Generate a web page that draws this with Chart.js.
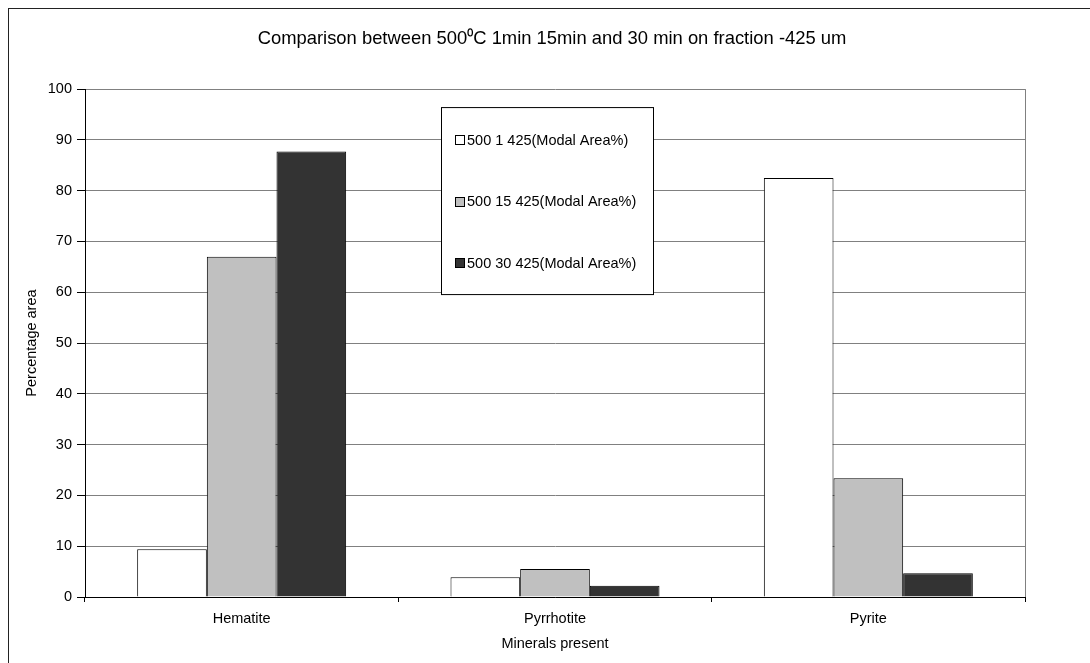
<!DOCTYPE html>
<html><head><meta charset="utf-8">
<script src="https://cdn.jsdelivr.net/npm/chart.js@4.4.0/dist/chart.umd.min.js"></script>
<style>html,body{margin:0;padding:0;background:#fff;}#wrap{position:relative;width:1090px;height:663px;}</style>
</head><body><div id="wrap"><canvas id="c" width="1090" height="663"></canvas></div>
<script>
const categories = ['Hematite', 'Pyrrhotite', 'Pyrite'];
const seriesNames = ['500 1 425(Modal Area%)', '500 15 425(Modal Area%)', '500 30 425(Modal Area%)'];
const series1min = [9.4, 3.9, 82.5];
const series15min = [67.0, 5.5, 23.4];
const series30min = [87.7, 2.2, 4.7];
const yTickValues = [0, 10, 20, 30, 40, 50, 60, 70, 80, 90, 100];
const seriesColors = ['#FFFFFF', '#C0C0C0', '#333333'];
const chartTitle = 'Comparison between 500\u2070C 1min 15min and 30 min on fraction -425 um';
const xTitle = 'Minerals present';
const yTitle = 'Percentage area';

const FONT = "'Liberation Sans', Arial, sans-serif";
const FS = 14.5;

const frame = {
  id: 'frame',
  beforeDraw(chart) {
    const ctx = chart.ctx;
    ctx.save();
    ctx.fillStyle = '#fff';
    ctx.fillRect(0, 0, chart.width, chart.height);
    ctx.strokeStyle = '#222';
    ctx.lineWidth = 1;
    ctx.strokeRect(8.5, 8.5, 3000, 3000);
    ctx.restore();
  },
  afterDatasetsDraw(chart) {
    const ctx = chart.ctx, a = chart.chartArea;
    ctx.save();
    ctx.strokeStyle = '#808080';
    ctx.lineWidth = 1;
    ctx.beginPath();
    ctx.moveTo(Math.round(a.right) + 0.5, a.top);
    ctx.lineTo(Math.round(a.right) + 0.5, a.bottom);
    ctx.stroke();
    ctx.restore();
  },
  afterDraw(chart) {
    const ctx = chart.ctx, a = chart.chartArea;
    const bx = a.left + 356, by = a.top + 18, bw = 212, bh = 187;
    ctx.save();
    ctx.fillStyle = '#fff';
    ctx.fillRect(bx, by, bw, bh);
    ctx.strokeStyle = '#000';
    ctx.lineWidth = 1;
    ctx.strokeRect(bx + 0.5, by + 0.5, bw, bh);
    ctx.font = FS + 'px ' + FONT;
    ctx.textBaseline = 'middle';
    ctx.fillStyle = '#000';
    chart.data.datasets.forEach((ds, i) => {
      const cy = by + 32.5 + i * 61.5;
      ctx.fillStyle = ds.backgroundColor;
      ctx.fillRect(bx + 14, Math.round(cy - 4.5), 9, 9);
      ctx.strokeStyle = '#000';
      ctx.strokeRect(bx + 14.5, Math.round(cy - 4.5) + 0.5, 9, 9);
      ctx.fillStyle = '#000';
      ctx.fillText(ds.label, bx + 26, cy + 1);
    });
    ctx.restore();
  }
};

const datasets = [series1min, series15min, series30min].map((vals, i) => ({
  label: seriesNames[i],
  data: vals,
  backgroundColor: seriesColors[i],
  borderColor: '#000',
  borderWidth: 1,
  categoryPercentage: 0.667,
  barPercentage: 1.0
}));

new Chart(document.getElementById('c'), {
  type: 'bar',
  data: { labels: categories, datasets },
  plugins: [frame],
  options: {
    responsive: false,
    animation: false,
    layout: { padding: { left: 14, right: 0, top: 0, bottom: 0 } },
    plugins: {
      legend: { display: false },
      tooltip: { enabled: false },
      title: {
        display: true, text: chartTitle, color: '#000',
        font: { family: FONT, size: 18.4, weight: 'normal' },
        padding: { top: 28, bottom: 39 }
      }
    },
    scales: {
      x: {
        offset: true,
        grid: { drawOnChartArea: false, drawTicks: true, tickLength: 5, tickColor: '#000', offset: true },
        border: { color: '#000', width: 1 },
        ticks: { color: '#000', font: { family: FONT, size: FS }, padding: 8, maxRotation: 0 },
        title: { display: true, text: xTitle, color: '#000', font: { family: FONT, size: FS }, padding: { top: 0, bottom: 10 } },
        afterFit(s) { s.height = 66; }
      },
      y: {
        min: 0, max: 100,
        afterBuildTicks(s) { s.ticks = yTickValues.map(v => ({ value: v })); },
        grid: { color: '#808080', tickColor: '#000', tickLength: 8 },
        border: { color: '#000', width: 1 },
        ticks: { color: '#000', font: { family: FONT, size: FS }, padding: 5 },
        title: { display: true, text: yTitle, color: '#000', font: { family: FONT, size: FS }, padding: { top: 9, bottom: 0 } },
        afterFit(s) { s.width = 71; }
      },
      yRight: {
        position: 'right',
        display: true,
        min: 0, max: 100,
        grid: { display: false, drawTicks: false },
        border: { display: false },
        ticks: { display: false },
        afterFit(s) { s.width = 65; }
      }
    }
  }
});
</script></body></html>
